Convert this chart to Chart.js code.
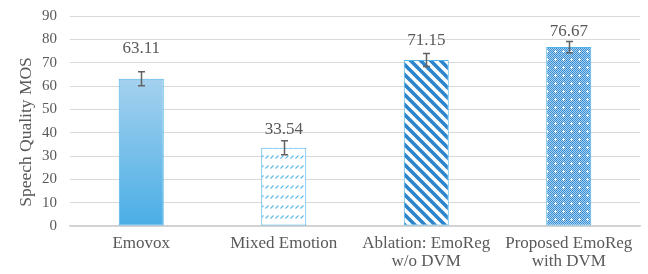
<!DOCTYPE html>
<html>
<head>
<meta charset="utf-8">
<script src="https://cdn.jsdelivr.net/npm/chart.js@4.4.1/dist/chart.umd.min.js"></script>
<style>
  html, body { margin: 0; padding: 0; background: #fff; }
  #wrap { width: 648px; height: 274px; }
</style>
</head>
<body>
<div id="wrap"><canvas id="mosChart"></canvas></div>
<script>
// --- DATA ---
const categories = ['Emovox', 'Mixed Emotion', ['Ablation: EmoReg', 'w/o DVM'], ['Proposed EmoReg', 'with DVM']];
const mosValues = [63.11, 33.54, 71.15, 76.67];
const mosErrors = [3.0, 3.0, 2.8, 2.4];
const yTicks = [0, 10, 20, 30, 40, 50, 60, 70, 80, 90];
const yTitle = 'Speech Quality MOS';

const FONT = '"Liberation Serif", "DejaVu Serif", serif';
const TEXT = '#595959';
// gap (px) between top of error bar and value label baseline
const labelGap = [19, 7, 8, 6];

// --- PATTERNS ---
function makeTile(w, h, draw) {
    const c = document.createElement('canvas');
    c.width = w; c.height = h;
    draw(c.getContext('2d'));
    return c;
}

const ctx = document.getElementById('mosChart').getContext('2d');

// light dashed diagonals
const dashTile = makeTile(5, 10, (g) => {
    g.fillStyle = '#fff';
    g.fillRect(0, 0, 5, 10);
    g.strokeStyle = '#5bb8e8';
    g.lineWidth = 1.1;
    g.beginPath();
    g.moveTo(0.5, 8.5);
    g.lineTo(3.5, 5.5);
    g.stroke();
});

// wide downward stripes
const stripeTile = makeTile(10, 10, (g) => {
    g.fillStyle = '#fff';
    g.fillRect(0, 0, 10, 10);
    g.strokeStyle = '#2b84cc';
    g.lineWidth = 3.6;
    g.beginPath();
    g.moveTo(-2, -2); g.lineTo(12, 12);
    g.moveTo(-12, -2); g.lineTo(2, 12);
    g.moveTo(8, -2); g.lineTo(22, 12);
    g.stroke();
});

// dotted grid with small white crosses
const gridTile = makeTile(8, 8, (g) => {
    for (let y = 0; y < 8; y++) {
        for (let x = 0; x < 8; x++) {
            g.fillStyle = (x + y) % 2 === 0 ? '#3a8fd4' : '#a9d2f0';
            g.fillRect(x, y, 1, 1);
        }
    }
    g.fillStyle = '#fff';
    g.fillRect(3, 2, 1, 3);
    g.fillRect(2, 3, 3, 1);
});

const gradient = ctx.createLinearGradient(0, 75, 0, 226);
gradient.addColorStop(0, '#a7d2ef');
gradient.addColorStop(1, '#4aaee6');

const fills = [
    gradient,
    ctx.createPattern(dashTile, 'repeat'),
    ctx.createPattern(stripeTile, 'repeat'),
    ctx.createPattern(gridTile, 'repeat')
];

// --- PLUGINS ---
const errorBars = {
    id: 'errorBars',
    afterDatasetsDraw(chart) {
        const g = chart.ctx;
        const meta = chart.getDatasetMeta(0);
        const y = chart.scales.y;
        g.save();
        g.strokeStyle = '#626262';
        g.lineWidth = 1.5;
        meta.data.forEach((bar, i) => {
            const top = y.getPixelForValue(mosValues[i] + mosErrors[i]);
            const bot = y.getPixelForValue(mosValues[i] - mosErrors[i]);
            const x = Math.round(bar.x) + 0.5;
            g.beginPath();
            g.moveTo(x, top); g.lineTo(x, bot);
            g.moveTo(x - 3.5, top); g.lineTo(x + 3.5, top);
            g.moveTo(x - 3.5, bot); g.lineTo(x + 3.5, bot);
            g.stroke();
        });
        g.restore();
    }
};

const valueLabels = {
    id: 'valueLabels',
    afterDatasetsDraw(chart) {
        const g = chart.ctx;
        const meta = chart.getDatasetMeta(0);
        const y = chart.scales.y;
        g.save();
        g.fillStyle = TEXT;
        g.font = '17px ' + FONT;
        g.textAlign = 'center';
        g.textBaseline = 'alphabetic';
        meta.data.forEach((bar, i) => {
            const top = y.getPixelForValue(mosValues[i] + mosErrors[i]);
            g.fillText(mosValues[i].toFixed(2), bar.x, top - labelGap[i]);
        });
        g.restore();
    }
};

// rotated axis title, sits a little below the plot middle like the original
const axisTitle = {
    id: 'axisTitle',
    afterDraw(chart) {
        const g = chart.ctx;
        g.save();
        g.translate(26, 132);
        g.rotate(-Math.PI / 2);
        g.fillStyle = TEXT;
        g.font = '17.5px ' + FONT;
        g.textAlign = 'center';
        g.textBaseline = 'middle';
        g.fillText(yTitle, 0, 0);
        g.restore();
    }
};

new Chart(ctx, {
    type: 'bar',
    data: {
        labels: categories,
        datasets: [{
            data: mosValues,
            backgroundColor: fills,
            borderColor: '#4fb3e8',
            borderWidth: 1,
            borderSkipped: false,
            categoryPercentage: 1.0,
            barPercentage: 0.316
        }]
    },
    options: {
        responsive: true,
        maintainAspectRatio: false,
        animation: false,
        layout: { padding: { top: 0, right: 8, left: 0, bottom: 0 } },
        scales: {
            x: {
                grid: { display: false, drawTicks: false },
                border: { color: '#d0d0d0', width: 1.5 },
                ticks: {
                    color: TEXT,
                    font: { family: FONT, size: 17, lineHeight: 1.05 },
                    padding: 9,
                    maxRotation: 0,
                    autoSkip: false
                },
                afterFit(axis) { axis.height = 48; }
            },
            y: {
                min: 0,
                max: 90,
                afterBuildTicks(axis) {
                    axis.ticks = yTicks.map(v => ({ value: v }));
                },
                grid: { color: '#d9d9d9', lineWidth: 1, drawTicks: false },
                border: { display: false },
                ticks: {
                    color: TEXT,
                    // small lineHeight keeps the top label overhang (and so the plot top) tight
                    font: { family: FONT, size: 15, lineHeight: 0.4 },
                    padding: 13
                },
                afterFit(axis) { axis.width = 70; }
            }
        },
        plugins: {
            legend: { display: false },
            tooltip: { enabled: false }
        }
    },
    plugins: [errorBars, valueLabels, axisTitle]
});
</script>
</body>
</html>
